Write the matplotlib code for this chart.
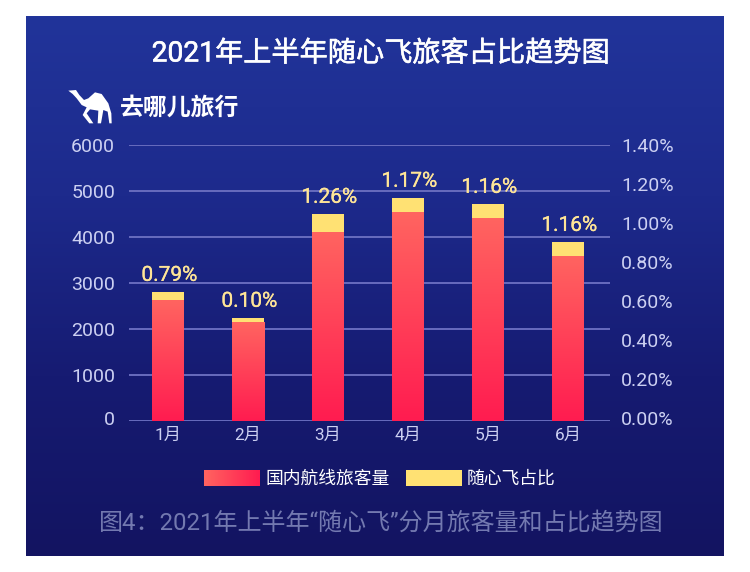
#!/usr/bin/env python3
import matplotlib
matplotlib.use('Agg')
import matplotlib.pyplot as plt
import matplotlib.patches as mpatches
import matplotlib.patheffects as pe
import matplotlib.transforms as mtransforms
from matplotlib.colors import LinearSegmentedColormap
import numpy as np

plt.rcParams['font.family'] = ['Roboto', 'Noto Sans CJK SC', 'DejaVu Sans']

months = ['1月', '2月', '3月', '4月', '5月', '6月']
domestic = [2630, 2150, 4110, 4543, 4413, 3587]
totals = [2804, 2240, 4500, 4850, 4717, 3890]
share_labels = ['0.79%', '0.10%', '1.26%', '1.17%', '1.16%', '1.16%']
left_ticks = [0, 1000, 2000, 3000, 4000, 5000, 6000]
right_ticks = [0.0, 0.2, 0.4, 0.6, 0.8, 1.0, 1.2, 1.4]

W, H = 750, 572
PANEL = (26, 724, 16, 556)
AX_X0, AX_X1, AX_Y0, AX_Y1 = 129, 610, 421, 145
XLIM = (-0.4875, 5.525)

RED_TOP = '#ff6460'
RED_BOTTOM = '#ff1c50'
YELLOW = '#ffe173'
GRID = '#686cbe'
TICK = '#ccd0f2'
LABEL = '#ffe597'

fig = plt.figure(figsize=(W / 100, H / 100), dpi=100, facecolor='white')

# Background layer, in pixel coordinates
bg = fig.add_axes([0, 0, 1, 1])
panel_cmap = LinearSegmentedColormap.from_list(
    'panel', ['#21349a', '#1d2a8c', '#161b72', '#131461'])
bg.imshow(np.linspace(0, 1, 256).reshape(-1, 1), cmap=panel_cmap, aspect='auto',
          extent=(PANEL[0], PANEL[1], PANEL[3], PANEL[2]), zorder=0)

bg.text(381, 54, '2021年上半年随心飞旅客占比趋势图', color='white', fontsize=20.3,
        ha='center', va='center',
        path_effects=[pe.withStroke(linewidth=0.4, foreground='white')])

# Logo
camel = np.array([
    (85, 212), (108, 210), (118, 225), (132, 240), (145, 235), (165, 217),
    (185, 222), (205, 250), (214, 280), (215, 310), (208, 310), (203, 275),
    (190, 270), (183, 310), (173, 310), (175, 272), (150, 268), (140, 280),
    (160, 310), (148, 310), (128, 285), (140, 262), (125, 255), (110, 235),
    (98, 222)], dtype=float) / 3 + (40, 20)
bg.add_patch(mpatches.Polygon(camel, closed=True, facecolor='white', edgecolor='none'))
bg.text(120, 108, '去哪儿旅行', color='white', fontsize=17.2, fontweight='bold',
        ha='left', va='center')

# Legend, drawn by hand because of the gradient swatch
legend_cmap = LinearSegmentedColormap.from_list('legend', [RED_TOP, RED_BOTTOM])
bg.imshow(np.linspace(0, 1, 64).reshape(1, -1), cmap=legend_cmap, aspect='auto',
          extent=(204, 260, 486, 470), zorder=1)
bg.add_patch(mpatches.Rectangle((406, 470), 56, 16, facecolor=YELLOW, edgecolor='none'))
bg.text(265, 479, '国内航线旅客量', color='white', fontsize=12.8, ha='left', va='center')
bg.text(467, 479, '随心飞占比', color='white', fontsize=12.8, ha='left', va='center')

bg.text(381, 523, '图4：2021年上半年“随心飞”分月旅客量和占比趋势图', color='#7379b0',
        fontsize=17.3, ha='center', va='center')

bg.set_xlim(0, W)
bg.set_ylim(H, 0)
bg.axis('off')

# Chart
ax = fig.add_axes([AX_X0 / W, 1 - AX_Y0 / H, (AX_X1 - AX_X0) / W, (AX_Y0 - AX_Y1) / H])
ax.patch.set_alpha(0)
x = np.arange(len(months))

ax.set_yticks(left_ticks)
ax.grid(axis='y', color=GRID, linewidth=1.4, zorder=1)
ax.set_axisbelow(True)
for side in ax.spines.values():
    side.set_visible(False)
ax.tick_params(axis='both', length=0)
ax.tick_params(axis='y', labelsize=14, labelcolor=TICK, pad=10)
ax.set_xticks(x, months)
ax.tick_params(axis='x', labelsize=12.4, labelcolor=TICK, pad=5)

# The zero label sits a little above the axis line in the original
zero_label = ax.get_yticklabels()[0]
zero_label.set_transform(zero_label.get_transform() +
                         mtransforms.ScaledTranslation(0, 3 / 100, fig.dpi_scale_trans))

bar_cmap = LinearSegmentedColormap.from_list('bar', [RED_TOP, RED_BOTTOM])
bars = ax.bar(x, domestic, width=0.4, color='none', zorder=3)
for bar in bars:
    bx, by = bar.get_x(), bar.get_y()
    bw, bh = bar.get_width(), bar.get_height()
    im = ax.imshow(np.linspace(0, 1, 128).reshape(-1, 1), cmap=bar_cmap, aspect='auto',
                   extent=(bx, bx + bw, by, by + bh), origin='upper', zorder=3)
    im.set_clip_path(bar)
ax.set_xlim(*XLIM)
ax.set_ylim(0, 6000)

ax.bar(x, np.array(totals) - np.array(domestic), width=0.4, bottom=domestic,
       color=YELLOW, zorder=3)

for xi, total, label in zip(x, totals, share_labels):
    ax.annotate(label, (xi, total), xytext=(1, 12), textcoords='offset points',
                ha='center', va='center', color=LABEL, fontsize=15, zorder=5,
                path_effects=[pe.withStroke(linewidth=0.2, foreground=LABEL)])

# Secondary axis only carries the share scale
ax2 = ax.twinx()
ax2.set_ylim(-0.015, 1.4)
ax2.set_yticks(right_ticks, [f'{v:.2f}%' for v in right_ticks])
ax2.tick_params(axis='y', length=0, labelsize=14, labelcolor=TICK, pad=8)
ax2.patch.set_alpha(0)
for side in ax2.spines.values():
    side.set_visible(False)

fig.savefig('out.png', dpi=100, facecolor='white')
